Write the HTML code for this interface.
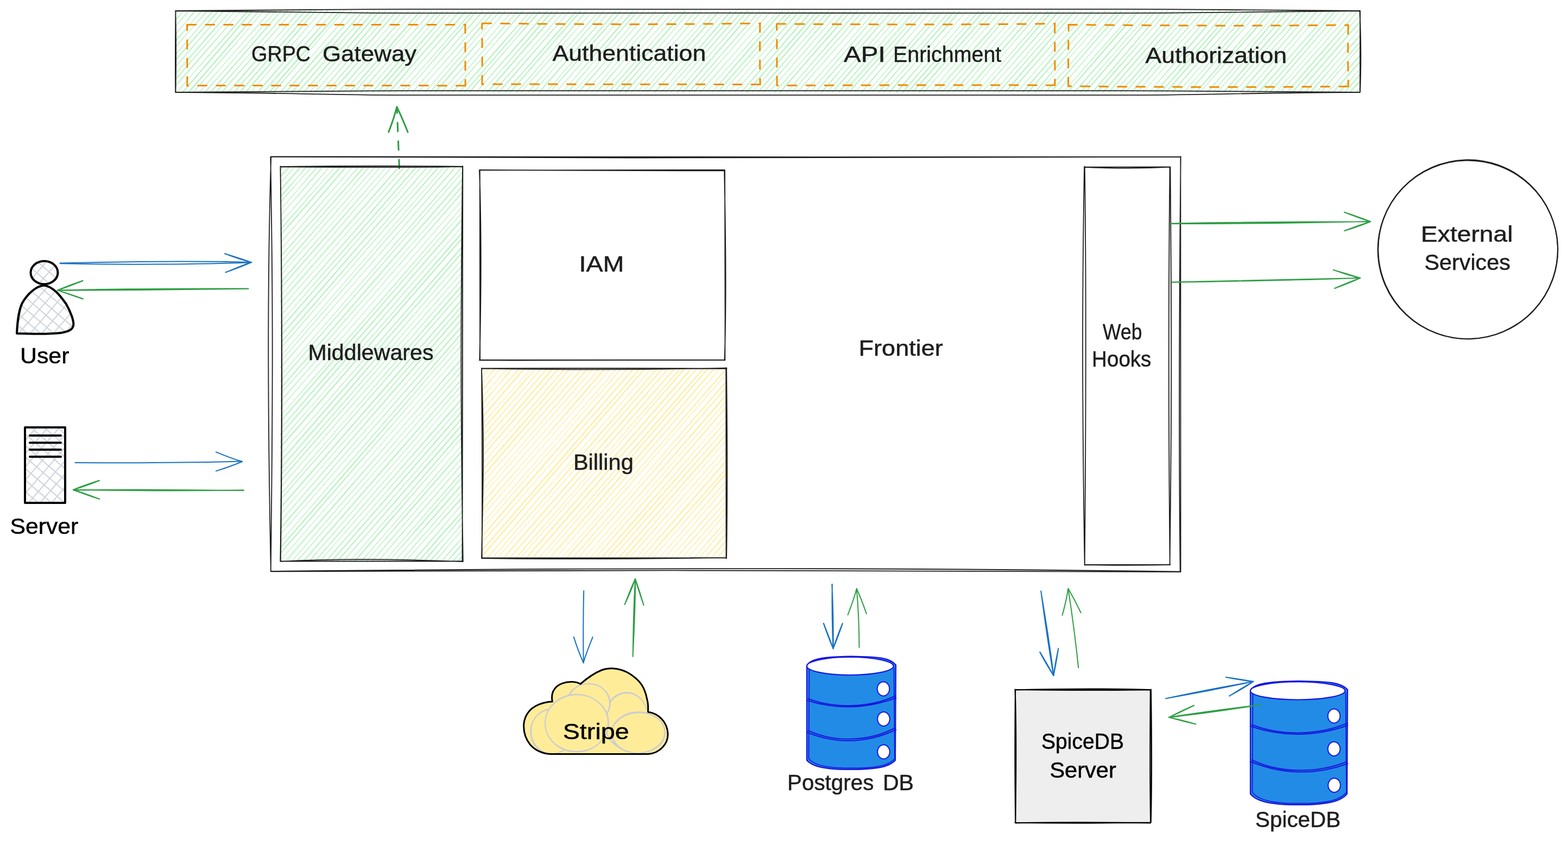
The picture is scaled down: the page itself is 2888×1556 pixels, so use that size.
<!DOCTYPE html>
<html lang="en"><head><meta charset="utf-8"><title>Frontier architecture</title>
<style>
html,body{margin:0;padding:0;background:#fff}
body{width:2888px;height:1556px;overflow:hidden}
svg{display:block;will-change:transform}
text{font-family:"Liberation Sans","DejaVu Sans",sans-serif;white-space:pre}
</style></head><body>
<svg role="img" aria-label="Frontier architecture diagram" width="2888" height="1556" viewBox="0 0 2888 1556">
<rect width="2888" height="1556" fill="#ffffff"/>
<path d="M323.8 25.8Q325.3 23.2 327 20M323.6 24.4Q325 23 326.5 20.7M322.9 37.6Q330.8 28.5 337.3 21M322 37.2Q329.9 28.4 338.9 19.7M322.4 49.3Q335 33.8 348.5 19.4M322.9 48.9Q335.3 35.1 347.5 20.7M324.1 62.7Q341.8 41.6 358.6 19.6M324 61.8Q341.7 41.2 360.2 20.4M323.8 75.8Q347.3 47.9 371.7 19M322.8 75Q347.5 47.5 371.6 20.4M323 87.5Q352.1 52.8 381.2 19.8M322 87.4Q351.9 53.2 382.2 20.2M324.1 99.9Q357.6 60.4 392 20.8M324 99.4Q358 60.3 391.8 19.5M323.6 111Q363.5 65.8 402.4 20.5M323.1 110.2Q362 65 400.5 20.8M323 123.3Q368.1 71.9 412.8 20.1M322.9 122.6Q367.9 71.6 412.5 19.3M323.7 137.2Q374 78.3 423.8 20.8M321.9 135.5Q372.7 77.7 424.9 19.4M322.1 146.9Q377.7 83.5 434.1 19.3M322.9 147.3Q378.2 83 433.9 19M322.1 160.4Q383.4 90.4 444.3 19.4M321.9 158.5Q382.1 89.8 443.5 20.5M325.6 169.4Q391.3 94.5 456.9 20.7M325.8 169.8Q391.1 93.9 456 19.6M336.3 170.8Q400.5 96.6 465.3 20.8M335.8 169.8Q401.2 93.6 465.2 18.9M348 170.2Q413.1 95.8 476.6 20.8M347 169.7Q412.3 94.4 477 19.4M355.4 170.4Q420.5 95.8 486.2 20M357.2 168.9Q422.5 94.8 486 19.6M366.6 170.4Q432.2 96.3 498.3 21M367.6 170Q433.5 94 498.6 19.4M378.4 169.4Q444 94.6 508.4 20.2M377.1 169.5Q443.7 95.6 508.6 20.2M388.1 169.1Q453.4 94.6 517.4 19.1M388.7 169.6Q453.4 95.3 518.6 20.6M397.8 169.5Q464.7 94.7 530 20.1M398.3 170.6Q464.4 94.1 529.9 18.9M410 169Q474.3 94.4 539 21.1M408.4 169.4Q475 94.1 540.1 19.1M422.4 169.5Q486.1 95 551.3 19.9M420.4 168.9Q486.8 94.1 552.9 19.6M429.8 170.9Q495.3 95.5 562.2 21M431 171.1Q496.4 95.3 561.2 20.4M441.4 169.4Q507.2 94.4 571.3 19.5M442.1 170.3Q507.3 94.7 573.2 19.8M452.7 170.9Q517.4 95.4 581.9 19.6M452.2 169.4Q516 94.5 581.3 19.4M461.1 170.3Q526.5 96.1 592 20.6M461.3 170Q528 94 593.1 19.1M475.1 170.7Q539.6 95.7 604.1 19.1M473.6 170.9Q537.8 95.6 603.7 20.9M485.6 170.9Q551.2 95.2 616.1 20.5M484.8 169.2Q549.8 94 615.8 20.4M496.3 170.1Q561.1 95.3 626.1 20.8M495.3 169.5Q560 95 625 20.3M504.1 169.2Q569.6 94.2 634 19.5M504.2 170.2Q569.3 94.6 634.2 18.9M516.1 170.4Q581.6 94.9 647.1 19.4M515.6 169.8Q581.9 95 646.7 20.9M525.8 169.1Q590.9 95.4 657.2 20.8M527.6 169.6Q592.4 95.5 657.6 20.8M537.8 170.8Q603.4 95.3 668.8 21M537 169.4Q601.8 95.3 668.1 20.6M547.8 170Q612 96.1 677.8 20.5M548.8 170.3Q614.2 95 678 20.9M559.6 170.4Q625.4 95.9 689.7 19.9M558.6 170.7Q623.5 94.3 689.1 19.3M570.7 169.2Q634.9 94.1 700.3 19.8M569.2 170.5Q634 94.1 699 19.3M580 170.7Q644.8 94.7 709.5 19.5M580 169.5Q645.8 95.9 710.6 20.6M590.2 170.8Q655.5 95.1 721.2 20.2M589.3 170.7Q654.6 96.4 719.8 20.5M602.3 169.2Q666.6 94.7 731.6 20.2M600.9 170.1Q665.6 94.6 730.5 19.9M611.7 170.4Q676.4 94.8 741.5 20.3M610 169.5Q676.4 95.2 741.7 20.8M622.8 170.7Q688.8 95.3 753.1 20.5M622.2 170.3Q686.9 94.8 753.3 19.7M632.2 170.8Q698.2 96.1 762.9 20.5M632.3 170.5Q697.9 95.3 763.1 20.3M643.7 171Q709.5 96.4 774.4 20.8M643.6 169.7Q709.1 95.1 773.2 20.5M653.7 170Q718.6 94.9 783.3 19M652.8 169.7Q718.3 95.1 783.8 18.9M664.5 170.4Q729.4 95.6 795.3 19.4M664.2 169.1Q729.8 94.6 795.8 20.1M674.7 170.3Q740 95.7 806.2 20.7M674.8 170.1Q740.6 95.1 805.1 20.6M686 170.5Q751.7 94.9 816.1 19M684.6 169.8Q749.7 95.5 815.9 20.6M696.5 169.9Q761.8 94.8 826.7 20.5M695.5 169.2Q760 95.3 825 20.5M706.7 170.5Q771.2 94.8 836.2 19.1M705.3 169.3Q771.1 94.3 835.6 20.2M716.8 170.7Q782 96.1 847.8 20.2M715.5 170.4Q780.7 94.9 845.9 19.8M726.7 170.7Q791.6 95.8 857.6 20.2M726.9 170.2Q791.9 96.2 858.5 21.1M738.8 169.7Q804.1 96 869.8 20.9M739.8 169.2Q804.5 94.4 870.5 18.9M748 169.2Q814 94.1 878.5 20.7M747.3 170.7Q811.8 94.4 877.6 19.5M759.1 170.5Q824.6 95.5 889.6 20.8M759.1 171Q823.5 96 889.5 19.4M770.2 170.2Q834.8 94.9 901 20M770.3 169.3Q836.3 95 901.7 19.8M781.9 170.6Q846 96.5 911.2 21M782.2 170.8Q847 94.9 910.8 19.1M792.3 169Q856.4 94.2 921.7 19.9M791.7 170.8Q855.4 96 920.6 20.1M800.3 169.7Q865.6 95.2 932.2 19.6M802 170.8Q866.2 95.4 931.2 19.8M812 170.6Q877.2 95.7 943.8 20.2M812.3 171.1Q878.1 96 943.2 20.7M824.8 169.5Q889.3 93.9 953.7 19.7M823.8 170.2Q888.9 95.1 953.5 20.7M833.2 169.6Q898.9 94.2 964.4 20M834.4 169.6Q899.8 94.3 963.5 19.1M846.3 171Q912.1 96.5 976.4 20.9M844.5 170.1Q910.7 95.9 975.9 21.1M855.3 171Q920.7 96.2 986.3 19.8M855.7 169.3Q920.6 95.6 985.2 20.4M864.9 170.5Q929.8 94.4 994.5 19.1M864.2 169.5Q929.3 94 995.8 20.1M877.3 169.3Q942.5 94.7 1008.2 18.9M877.5 169.5Q943.5 95.6 1008.3 20.2M887.2 170.1Q953 95.9 1018.1 20.7M887.9 169.5Q952.7 95 1016.5 20.5M897.3 170.8Q962.1 96.1 1028.5 20.2M897.4 169.3Q961.5 94.2 1027.4 20.4M908.6 170.5Q974 95.4 1039.1 20.1M907.8 170.1Q973.1 95.8 1038.8 21M917.9 170Q984.2 94.5 1048.9 20.1M918.6 171.1Q983.7 95.4 1049.2 20.1M931.1 170.4Q996.9 95.4 1061.5 20.9M930.1 170.7Q995.2 95.3 1060.3 20.5M939 169.7Q1003.9 93.9 1070 18.9M940.6 170.2Q1004.8 95.7 1069.8 21.1M951.4 169.9Q1017.1 94.9 1082 20M952 170.5Q1017.1 94.4 1080.5 19.2M959.6 170Q1026 95.5 1091.6 19.8M959.3 170.2Q1025.5 94.9 1091.7 20.1M973.6 169.1Q1038.7 93.8 1103.1 19.8M972.1 169.5Q1038.2 95.6 1103 20.6M981.8 169.8Q1047.6 95.4 1113.4 19.5M981.8 170.8Q1047.7 94.7 1112.2 19.8M992.8 170.9Q1058.6 95.9 1124.4 19.5M993.1 169.4Q1058.5 93.6 1123.9 19.6M1004.8 170.9Q1070.4 95.1 1135.9 19.5M1005.1 170.8Q1070 95 1134.3 19.5M1012.7 170.1Q1078.4 95.8 1144 21M1012.6 169.8Q1077.5 94.6 1143.3 20.4M1024.4 169.6Q1090.4 94.8 1155.1 19.3M1024.5 169Q1089.7 95.3 1154.5 20.4M1035.7 170Q1100.3 94.2 1166.1 19.2M1035.2 170.1Q1101.4 94.6 1166.9 20.1M1045.5 170.8Q1109.7 94.5 1175.5 18.9M1045.6 169.1Q1111.2 94.5 1175.1 20.4M1056.8 169Q1121.3 94.6 1186.7 19.2M1057.1 169Q1121 94.4 1186.2 20.5M1065.7 169Q1131.7 94.6 1196.3 19.8M1066.1 170.4Q1131 96 1196.5 20M1078.1 170.3Q1144 95.1 1208.6 20.2M1077.8 170.3Q1142.9 95 1207.9 20.1M1089.4 170.1Q1153.4 94.6 1218.5 20M1089 170.1Q1154 94.8 1219 19.5M1097.9 169.7Q1163.7 95.5 1229.5 20.1M1099.2 170.4Q1164 94.4 1228.1 19.6M1109.6 170.8Q1175.4 95.5 1240.1 20.8M1111.2 169.3Q1176.2 93.8 1241.5 19.7M1119.8 170.4Q1184.7 96.1 1251.4 20.2M1121.2 170.3Q1186.5 95.2 1250.4 20.1M1131.5 169.8Q1197.2 94 1262.6 19.8M1131.2 169Q1195.9 93.3 1262.1 18.9M1140.6 169.7Q1206.3 95.6 1270.5 21.1M1141.3 170.7Q1205.4 95.8 1270.4 20.7M1150.9 170.6Q1217.6 94.8 1282.9 19.6M1152 171.1Q1217.2 94.8 1282.6 19M1162.8 169.9Q1227.9 94.3 1292.9 20.3M1162.5 170.9Q1227.1 95.3 1291.8 20.3M1174.6 168.9Q1240.3 93.8 1304.8 19.7M1174 169.1Q1239.1 95.6 1303.6 21M1183.6 170Q1248.6 95.1 1314.6 20.5M1183.7 170.2Q1248.7 95.2 1315 20.7M1192.5 169.1Q1258.2 95.3 1323.2 20.6M1193.1 169.2Q1259.8 94.1 1325 20.7M1205 170.5Q1270.3 94.4 1336 20.1M1205.4 171.1Q1270.4 95.2 1336 20.4M1217 171Q1281.4 95.5 1345.7 20.2M1216.7 171Q1282.2 96 1347 20.4M1225.6 170.6Q1290.5 95.6 1355.7 20.3M1226.5 170Q1291.2 95.5 1357.6 19.4M1235.9 169.8Q1301.8 95.1 1366.9 21.1M1236.4 169.9Q1301 94.7 1366.7 19.8M1246.4 170.7Q1311.9 95.6 1377.2 19.2M1247.7 170.3Q1312.2 94.5 1378 19.6M1257.1 169.9Q1321.7 94 1387.2 19.2M1258.3 170.1Q1323.5 95.1 1387.3 19.8M1268.4 169.3Q1334.3 93.4 1399.3 19.1M1269.2 169.7Q1333.6 95 1399.4 20.2M1277.7 169.7Q1343.8 94.8 1408.2 20.4M1279 169.4Q1344.1 93.8 1409.1 19.7M1289.7 169.9Q1355.2 95.5 1420.3 20.7M1290.9 169.5Q1355 95.6 1419.8 20.7M1301.5 169.1Q1366.5 94.2 1432.4 20.3M1301.2 169.2Q1367.4 94.6 1432.5 20.5M1311 170.5Q1375.6 94.2 1441.6 18.9M1312.3 169.7Q1376.8 95.2 1442.1 20.2M1322.8 170Q1388.4 95.4 1453 21M1321.4 169.1Q1387.3 94.1 1453 19.2M1330.6 170.7Q1396.9 95.1 1461.7 20.9M1331.6 169Q1397.3 94.6 1461.4 19.9M1342.1 170Q1407.6 95.7 1471.8 19.7M1342.7 169Q1408.6 93.9 1473.4 19.9M1353.5 169.5Q1418.6 95.4 1482 20M1352.4 171.1Q1418.3 95.7 1483.7 20.8M1364.7 171Q1429.9 95.8 1495.2 20.9M1364.9 169.6Q1430.3 94.5 1494.4 20.2M1375.9 170.6Q1441.2 96 1505.5 21.1M1374.4 170.2Q1439.2 95.3 1504.6 20.9M1385.5 170.2Q1451.2 95.1 1515.6 20.3M1385.2 170.7Q1449.6 94.5 1514.5 19.3M1395.7 169.1Q1461.7 95.5 1526.5 20M1397.3 170.2Q1461.8 95.2 1525.9 19M1406.9 170.1Q1470.9 94.6 1536.4 20.3M1406.8 169.5Q1471.5 94.1 1535.3 19.5M1415.8 170Q1482.2 95.6 1547.3 19.6M1417 169.1Q1482.3 94.4 1546.3 20.9M1427.1 170.5Q1492.4 95.8 1556.8 19.6M1426.4 170.2Q1492.1 96.3 1558.2 20.8M1436.7 169.2Q1502 93.6 1568.1 19.2M1436.5 171Q1502.4 95.5 1567.5 21M1448.5 171.1Q1513.8 94.4 1578.9 19.5M1450.2 169.1Q1515.5 93.5 1580.7 19M1458.9 169.7Q1523.4 94.5 1589.1 20.3M1459.3 169.6Q1524.7 93.9 1590.2 19.8M1468.1 170.3Q1533.8 96 1599.7 21M1468.6 169.1Q1534.4 95.5 1599.2 20.4M1481.3 170.1Q1546.8 95.2 1611.6 20M1482 169.9Q1547.1 95.4 1611.5 20.7M1491.9 170.2Q1556.7 94.1 1621.1 19.6M1491.2 170.9Q1556.5 96.1 1621.1 19.9M1502.4 169.7Q1567.1 95.5 1632.4 20.3M1501 170.6Q1566.2 94.8 1633 19.6M1513.1 170.8Q1577 95.8 1642.3 19.1M1512.8 169.2Q1578.3 94.6 1643.3 21M1524.3 169.3Q1589.7 94.4 1654.8 20M1523.4 169.8Q1589.5 94.1 1654.3 19.9M1533.9 170.2Q1598.3 95.1 1663.6 20.3M1532.3 169.2Q1599 94 1664.4 20.5M1544.1 170Q1609.5 94.6 1675.3 19M1545.4 170Q1610.1 94.8 1674.5 20.2M1554.3 168.9Q1619.5 94 1684.8 19.1M1555.6 170.5Q1620.3 95.6 1685.8 21.1M1563.9 170Q1630.3 95.5 1695.2 19.2M1563.8 168.9Q1629.6 93.9 1694.2 20.5M1575 169.6Q1639.1 93.7 1704.3 18.9M1574.5 170.1Q1639.1 95.4 1704.8 19.4M1586.1 169.9Q1650.2 94.3 1716 19.8M1586.3 170.6Q1651.8 94.2 1715.8 19.3M1598.5 169.2Q1662.9 93.8 1728.8 19.2M1597.4 170.2Q1663 94.8 1728 20.6M1607.7 169.2Q1672.6 94.5 1738.5 20.7M1606.6 169.8Q1671.3 93.9 1737 19M1617.9 170.8Q1684 95.3 1748.8 20.3M1617.9 169.4Q1684.2 95.3 1749.1 20.8M1627.2 170.7Q1694 96.1 1759.4 20.1M1628.7 169.7Q1693.4 94.6 1758.4 19.7M1637.7 169.3Q1703.8 94.4 1769.1 20.8M1638.5 170.3Q1703.5 94.2 1768.1 19.1M1649.7 170.8Q1715.1 96 1780.4 19.8M1651.3 170.8Q1715.7 95 1781.2 19.1M1662.2 169.3Q1727 95.8 1791.8 21M1662.5 170.6Q1727.1 94.8 1792.4 20.4M1671.2 169.5Q1736.5 94.8 1802.9 21M1673 169.6Q1736.9 95.4 1802.4 19.7M1681.2 169.1Q1747.3 93.8 1811.9 19.7M1681.7 169.6Q1747.3 95.9 1812.7 20.9M1692.5 170.8Q1757.8 95.1 1823.2 19.9M1692.5 169.1Q1756.8 94.3 1822.4 20.6M1702.1 169Q1767.7 95.3 1832.5 20.2M1701.5 170.3Q1767 95.6 1832.2 19.7M1715.1 168.9Q1778.8 93.7 1844.1 20M1713.8 170.1Q1778.4 95 1843.7 19.1M1725.5 170.2Q1790.6 95 1855.7 20.2M1723.5 169Q1788.5 94.4 1855.2 20.8M1734.2 170.7Q1799.3 95.9 1864.4 19.6M1734.1 170.3Q1799.8 94.6 1864 19.8M1745.6 170.1Q1811 94.9 1875.8 20.2M1744.9 169.8Q1811 94.8 1875.7 20.1M1756.8 171Q1820.9 96.2 1885.8 20.5M1755 170Q1821.5 95.7 1886.6 20.4M1766.8 168.9Q1832.5 93.9 1897.4 20.1M1767 169Q1832.3 95.2 1897.7 20.7M1777.2 169.1Q1842.3 94.3 1908.6 19.7M1778.4 171Q1842.7 96 1908.2 21M1786.4 170.8Q1851.4 96.4 1916.4 20.3M1788 169.2Q1852.1 94.6 1916.8 21.1M1799.6 169.6Q1864.7 94.8 1929.9 19.8M1798.6 170.3Q1865.2 94.8 1930.7 20.2M1807.3 171.1Q1872.9 95.8 1938 19.7M1808.7 169.9Q1874.7 94.1 1939.5 19.9M1819.3 169.8Q1884.8 95.1 1950.4 19.3M1819.1 169.3Q1885.2 95.3 1951.6 19.9M1830.2 170.2Q1895.5 95.9 1960.6 20.6M1829.9 170.9Q1895.2 96.5 1960.7 20.8M1839.1 169.9Q1905.3 94.3 1971.5 19.9M1840.2 169.8Q1905.8 94.6 1971.4 20.5M1851.9 170.2Q1915.7 95.4 1980.6 20.7M1851.6 169.1Q1915.4 93.9 1980.3 19M1861.3 168.9Q1927.1 94.1 1992.1 19.9M1861.9 169.6Q1927.3 94.3 1992.7 19.3M1872.7 170.1Q1938.5 95.5 2002.6 20.7M1872.9 170.5Q1937.7 95.3 2002.6 20.2M1883.2 169.4Q1948.2 93.9 2012.9 19.3M1883.7 170.9Q1949.7 95 2014.1 19.6M1893.9 170.4Q1959.5 95.1 2023.8 20.6M1893 169.8Q1958.2 94.9 2024.5 20.4M1906.3 170.2Q1970.8 94.7 2036.3 20.7M1905.6 169.7Q1970.8 95.2 2036.2 19.5M1914.1 169.2Q1980.3 95.3 2044.8 20.5M1913.5 169.9Q1979.5 95.9 2044.8 20.3M1926 169.2Q1992.8 93.6 2058 19.3M1926.8 169.2Q1992 94.8 2056.2 19.6M1935.2 169.7Q2000.4 94.5 2065.6 19.4M1936.9 169.1Q2001 94.4 2066.4 20.1M1947.1 169.7Q2011.4 95.5 2075.6 19.9M1946.7 169.4Q2012.4 93.3 2077.5 18.9M1957.5 170.7Q2022.7 95.5 2089.2 20.6M1957.3 170.5Q2023.7 95.6 2089.6 20.1M1967.1 169.7Q2032.5 94.8 2098.4 19.8M1966.8 169Q2032.3 93.9 2097.2 18.9M1979.1 169Q2043.7 94.7 2110 20.7M1979.6 169.8Q2045.1 95.8 2110.1 20.4M1990.1 169Q2055.2 94.9 2120.2 20.4M1989.6 170.8Q2054.5 94.9 2119.7 20.3M1998.1 169.5Q2063 94.8 2129.3 19M2000 169.8Q2063.9 95.1 2129.3 20.2M2011.9 170.3Q2077.3 95.1 2141.4 19.8M2010.8 170.5Q2076.1 95.4 2141.1 19M2020 169.1Q2086.3 93.4 2152.2 19.1M2020.9 170.9Q2086 95.4 2150.7 19.6M2031.6 169Q2097.2 94.1 2162.4 19.5M2031.3 171.1Q2096.6 96.1 2161.8 21M2041.1 170.5Q2106.1 95.3 2172.2 20.2M2042.2 170.6Q2107.7 95.4 2172.6 19.8M2053.2 169.6Q2118.6 95.1 2182.3 19.2M2053.6 169.5Q2118.9 94.7 2184 20.6M2063.8 171.1Q2129.3 96.2 2193.9 19.9M2062.8 169.2Q2129 94.8 2194.2 20.1M2073.2 168.9Q2138.5 95.1 2203.1 21M2072.4 170.4Q2138.5 96.1 2203.9 20.3M2084.9 170.1Q2149.5 94.4 2215.2 20.4M2083.8 169Q2150 93.7 2215.1 19.6M2095.4 169.1Q2160.2 94.3 2224.7 20.4M2093.8 170.2Q2158.7 96.2 2224.5 20.8M2105.2 169.5Q2170.8 94.1 2235.3 19.9M2105.6 169Q2170.5 95.5 2235.7 20.7M2115.9 170.9Q2181.3 96.5 2247.7 20.6M2115.9 170.8Q2180.7 95.4 2246.2 19.4M2128.1 169.1Q2194 94.1 2258.9 20.9M2127.7 170.6Q2194 96.4 2258.9 21.1M2137.8 169Q2204.1 93.8 2269.1 19.9M2138.9 170.3Q2204 95.4 2269.3 20.4M2147 170.2Q2212.3 95.1 2277.2 19.7M2148.4 169.9Q2213.7 95.1 2278 19.8M2159 169.2Q2224.6 94.2 2289.8 20.3M2159.3 170.2Q2223.8 96 2289.7 20.7M2169.3 170.6Q2233.9 96 2300.2 20.9M2169.7 170.6Q2234.1 96.1 2299.1 20.6M2181 169Q2246.2 94.9 2310.5 19.2M2179.9 170.8Q2245.4 94.7 2309.7 19M2190.3 170.9Q2254.6 94.8 2319.4 20.2M2189 169Q2254.5 94.5 2319.9 19.6M2202.8 169.3Q2267.3 95.2 2332.7 20.8M2203.1 170.3Q2268.8 95.5 2332.9 19.6M2211.1 168.9Q2277 94.2 2341.9 20.8M2211 169.3Q2275.6 94.4 2341.4 19.3M2224.1 170.3Q2288.2 94.8 2353.3 20.9M2222.7 170.6Q2288 95.4 2354.2 19.6M2233.8 169.9Q2297.7 94.5 2362.6 19.1M2233.6 170.1Q2298 95.6 2362.5 21M2242.5 169.4Q2307.7 94.9 2373.7 20.9M2242.6 169Q2308.4 94 2372.4 20.6M2253.4 169.6Q2317.8 94.7 2383.3 20.8M2254.4 170.3Q2318.5 96.2 2384.3 20.4M2263.4 169.9Q2328.4 94.8 2395.1 21M2262.9 169.2Q2329.2 93.6 2395.3 19.1M2274.1 169.5Q2339.6 95.2 2405 20.8M2274.1 169.3Q2340.2 94 2404.9 19.8M2284.2 169.6Q2350.2 95.1 2415 19.8M2285.4 170.7Q2351.2 94.2 2416.4 19M2296.3 169.5Q2361.5 95.2 2425.9 19.3M2297.5 169Q2362.3 94.2 2427.1 19.3M2305.7 170Q2371.6 94.5 2436.1 20.8M2307.3 170.7Q2371.6 94.9 2436 20.2M2318.7 170.7Q2384.6 96.5 2449.9 21M2317.6 169.6Q2383 95.4 2448.9 20M2329.5 169.9Q2395.6 94.9 2460.1 19.7M2328.4 170.3Q2393.5 95.9 2458.2 20.4M2338.1 170.2Q2403.6 95.6 2467.7 20.6M2338.9 171Q2404.4 95.8 2468.6 20M2349.5 170.6Q2414.4 95.2 2480.4 19.2M2349.8 170.5Q2415.5 94.7 2479.7 19.7M2358.9 169.1Q2424.2 95.1 2490.6 20.4M2359.2 169.7Q2424.8 95.7 2490.6 20.6M2371.2 170.7Q2437.1 94.6 2501.4 20.1M2369.8 169Q2435.5 94.9 2500.8 20.1M2381.4 169.4Q2444.3 98.3 2506 26.5M2379.5 170Q2441.7 98.8 2504.8 27.9M2390.4 170.1Q2448.4 103.9 2505.3 38.7M2392.4 170.4Q2449.8 105 2506 39.3M2403 170Q2454.5 110.5 2504.5 52.5M2403.9 170.5Q2454.7 111.6 2504.3 52.7M2413.4 169.3Q2459.3 116.9 2506.1 65.1M2413.8 170.8Q2459.2 117.5 2505.1 64.1M2425.2 169.4Q2464.1 124.3 2503.9 78M2424 171.1Q2464 124.7 2505.7 77.1M2433 169.7Q2468.7 128.7 2504.3 87.1M2434.4 169Q2469.6 128 2504 88M2444.5 170.9Q2474.9 135.9 2505.8 102.3M2446 169.9Q2475.7 135.9 2504.7 101.2M2455.1 169.2Q2480.4 140.9 2504 114.2M2455.8 171Q2479.9 143 2505.2 114.2M2466.2 169.3Q2486.3 148.3 2506 125.7M2467.5 170.6Q2485.4 148.7 2504.6 127.1M2477.4 169Q2490.1 153.9 2504.1 137.4M2476.8 170.2Q2491.6 155 2504.8 138.5M2486.9 170.6Q2496.4 159.3 2505.9 149.1M2485.6 169Q2494.9 159.3 2504.5 149.4M2498.7 170.9Q2500.9 165.9 2504.5 161.3M2497.1 170.5Q2500 166.6 2504.6 162" fill="none" stroke="#b2f2bb" stroke-width="1.1" stroke-linecap="round"/>
<path d="M323 20C519.4 19.5 628.5 16.8 759.4 16.8C1195.8 17.3 1632.2 17.2 2068.6 16.8C2199.5 16.8 2308.6 19.5 2505 20M323 20C519.4 20.6 628.5 24.2 759.4 24.2C1195.8 23.8 1632.2 23.8 2068.6 24.2C2199.5 24.2 2308.6 20.6 2505 20M2505.1 19.6C2505.2 90.2 2505.1 119.3 2504.9 169.9M2504.5 19.5C2507.3 87 2507 126.2 2505 169.8M2505 170C2308.6 169.6 2199.5 167.2 2068.6 167.2C1632.2 167.3 1195.8 166.8 759.4 167.2C628.5 167.2 519.4 169.6 323 170M2505 170C2308.6 170.8 2199.5 175.2 2068.6 175.2C1632.2 175.2 1195.8 175.1 759.4 175.2C628.5 175.2 519.4 170.8 323 170M323.2 169.6C322.7 117.8 323 76.2 323.4 20.3M323.5 169.6C324.6 103.1 324.2 56.6 323.3 20.2" fill="none" stroke="#1e1e1e" stroke-width="1.8" stroke-linecap="round" stroke-linejoin="round"/>
<path d="M344.8 45.4C524.1 45.6 743.3 45.4 857.3 45.5M856.8 44.9C857 84.7 856.9 133.5 857.1 158.1M856.6 157.7C624.8 157.4 516.8 157.6 344.6 157.4M344.8 158C344.9 104.9 344.8 82.4 344.6 45.3" fill="none" stroke="#f08c00" stroke-width="3" stroke-linecap="round" stroke-linejoin="round" stroke-dasharray="16 18"/>
<path d="M888.5 42.9C1104 45.2 1226.4 45.3 1400.4 42.9M1399.8 43C1399.5 85.5 1399.4 115.1 1400.1 155.4M1400.3 155.4C1173 155.4 1077 155 888.5 155.1M888 155.4C888.3 104.1 888.2 72.9 887.7 43.4" fill="none" stroke="#f08c00" stroke-width="3" stroke-linecap="round" stroke-linejoin="round" stroke-dasharray="16 18"/>
<path d="M1431.3 44C1606.1 45.3 1816.2 45.5 1943.3 43.5M1942.7 44.2C1942.8 78.8 1943.1 133.7 1943 156.6M1943.1 157C1770.5 156.4 1572.4 156.9 1431.1 157.5M1431.1 157.2C1430.9 109.2 1430.9 66.7 1430.6 44.1" fill="none" stroke="#f08c00" stroke-width="3" stroke-linecap="round" stroke-linejoin="round" stroke-dasharray="16 18"/>
<path d="M1967.5 45.5C2196.5 47.5 2328.6 47.7 2483.4 46.1M2483.2 46.2C2482.6 84.8 2482.6 115.9 2483.4 159.2M2482.8 159.2C2304.5 160.7 2135.7 160.5 1967.7 158.7M1967.6 158.8C1967.5 108.5 1967.8 75.6 1968.3 46.2" fill="none" stroke="#f08c00" stroke-width="3" stroke-linecap="round" stroke-linejoin="round" stroke-dasharray="16 18"/>
<text font-size="40" fill="#1e1e1e" stroke="#1e1e1e" stroke-width="0.5" stroke-linejoin="round"><tspan x="463.1" y="113" textLength="108.9" lengthAdjust="spacingAndGlyphs">GRPC</tspan> <tspan x="593.9" y="113" textLength="173.4" lengthAdjust="spacingAndGlyphs">Gateway</tspan></text>
<text font-size="40" fill="#1e1e1e" stroke="#1e1e1e" stroke-width="0.5" stroke-linejoin="round"><tspan x="1017.5" y="111.5" textLength="282.7" lengthAdjust="spacingAndGlyphs">Authentication</tspan></text>
<text font-size="40" fill="#1e1e1e" stroke="#1e1e1e" stroke-width="0.5" stroke-linejoin="round"><tspan x="1554" y="114" textLength="76.6" lengthAdjust="spacingAndGlyphs">API</tspan> <tspan x="1645" y="114" textLength="199.3" lengthAdjust="spacingAndGlyphs">Enrichment</tspan></text>
<text font-size="40" fill="#1e1e1e" stroke="#1e1e1e" stroke-width="0.5" stroke-linejoin="round"><tspan x="2109.5" y="115.5" textLength="260.7" lengthAdjust="spacingAndGlyphs">Authorization</tspan></text>
<path d="M735.5 310L731 197" fill="none" stroke="#2f9e44" stroke-width="3" stroke-linecap="round" stroke-dasharray="16 18"/>
<path d="M715.8 243.1C722 227.2 727.6 210 730.9 196.9M751.1 243.2C741.7 219.8 737.9 210.6 731 197.1" fill="none" stroke="#2f9e44" stroke-width="3" stroke-linecap="round" stroke-linejoin="round"/>
<path d="M499.2 288.5C1193.1 289.1 1573.7 289.3 2174.5 288.7M498.8 288.7C1085.9 291.5 1519.6 291.1 2174.8 288.9M2174.7 288.3C2171.3 622.4 2171.6 864.8 2173.7 1051.9M2174.4 288.3C2172.3 661.6 2172.3 884.3 2174.6 1053.1M2174.8 1052.6C1619.2 1045.1 1156.8 1045.5 499.6 1051.9M2174 1053C1481.6 1049.9 1131.6 1049.4 499.7 1052.4M498.9 1052C492.8 760 492.7 499.8 499.2 289.5M498.7 1052.2C503 704.6 502.5 528.2 498.3 288.9" fill="none" stroke="#1e1e1e" stroke-width="1.8" stroke-linecap="round" stroke-linejoin="round"/>
<path d="M517.1 313.4Q519.8 309.4 522.1 306.5M517 312.8Q519.6 308.5 522.8 305.6M517.4 324.5Q526.3 316.2 534.6 307.5M516.2 324.4Q524.4 314.5 533.6 305.5M516.9 335.8Q530.4 321.2 543.3 306.5M517.4 335.8Q530.6 322.3 542.1 307.6M516.6 349.1Q535.8 327.1 554.1 305.6M517.8 349.4Q535.8 327.8 555.5 307.3M516.9 363.4Q541.3 335 565.3 305.6M516.5 361.4Q541.3 333.8 565.2 307.5M516.1 372Q545.9 338.8 575.4 305.8M516.3 373.5Q544.5 340 574 306.8M516.5 386.1Q551.9 345.6 586 306.1M516.8 385.9Q552.1 345.2 585.6 305.6M517.6 397Q555.9 351.4 595.6 305.6M516.4 397.6Q556.9 352 595.7 306.4M517.8 409.6Q562.7 358.1 606.5 307.4M516.3 410.8Q563.1 359 608.2 305.8M516.8 421.7Q566.4 365 616.9 307.5M516.5 423.3Q566.7 365.1 618.1 306M516.4 433.7Q571.9 370.9 628.2 306.8M516.3 432.5Q570.9 368.9 626.9 306.4M517.2 445.6Q578.6 376.8 638.3 307.4M517.4 446.6Q576.8 376.8 637.8 305.5M518 458.3Q584.5 382.1 650.2 306.5M518.1 458.5Q584.8 383.2 650 307M517.6 472.5Q589.6 390.4 660.2 306.9M516.8 472.2Q589.3 389.2 661.3 306.7M517.2 482.6Q594.9 395.5 671.2 307.6M516.8 484Q594.5 394.5 671 306.4M516 496.3Q599.2 401.1 681.8 305.9M517.3 497Q598.9 401.5 681.3 305.4M516.3 507.9Q604.7 406.8 691.7 306.4M517.4 506.4Q605 407.4 691.2 307.2M517.2 519.2Q609.9 413.5 701.5 306.5M517.5 520.6Q609.5 412.8 701.8 305.8M516.8 531.7Q615.3 419.7 712.5 306.1M516.9 530.5Q613.4 419.3 711.5 307.3M516.6 545.1Q619.6 424.6 722.8 305.7M517.7 543.9Q620.6 424.6 723.1 305.5M517.3 557.5Q625.9 432.1 735.6 306.9M516.3 555.7Q624.8 430.9 734.5 307M517.4 568.4Q631 438.2 744.8 307.1M517.9 567.4Q631.1 437.1 745.5 307M517.9 580.9Q637.4 444.9 755.9 307.3M516.9 581.5Q636.6 444.5 755.1 307M516.4 594.4Q642 451.5 767.6 307.6M516.6 594.5Q641.2 450.2 767.3 306.2M517.6 605.3Q645.9 456.8 775.8 307.2M516.3 605Q646.2 455.4 777.4 305.7M517.7 618.4Q654 461.7 788.7 306.5M516.4 618Q652.1 462.6 787.3 307M517.1 630Q658.4 468.1 798.3 307.3M517.8 631.5Q657.7 469.1 798.6 306.7M517.2 640.8Q663.2 474.2 809.5 306.5M517.1 641.8Q663.1 473.5 808.9 305.5M517.9 654.6Q668.8 480.7 820 305.7M517.9 655Q669 481.2 819.6 305.8M517.6 664.3Q673.3 484.8 828.3 305.9M516.7 665.6Q671.7 486.3 828.1 307M516.3 677.9Q677.8 492.1 839.7 306.2M516.3 677.2Q678.2 492.6 840.1 306.8M517.8 690.3Q685.4 498.4 851.7 307.2M516.6 691.8Q684.2 499.1 850.5 307.6M517.5 701.7Q684.2 510.1 851.1 317.6M516.2 702Q683.8 509.2 852.4 315.8M518 715.1Q685 523.4 852 331.1M516.3 715Q683.8 522.3 851.1 329.6M516.2 726.7Q684.6 535.4 851.3 342.7M516.1 726.4Q685 533.8 853 341.9M517 739.2Q685 546.6 852.2 352.9M516.3 739.2Q683.9 545.9 852.5 353.7M515.9 752.5Q684.9 559.8 852.7 366.7M516.8 751.8Q684.9 559.1 852 367.3M517.5 765.3Q685.8 572.9 852.7 379.1M517.4 765.3Q685.4 571.5 852.6 379.1M516.9 774.5Q684.5 582.1 851.7 390.5M518 776Q684.9 583.3 851.6 390.6M518.1 788.2Q686.1 594.8 852.4 403.1M517.3 788.4Q683.6 594.8 851.5 402.3M516.1 799.5Q684.5 608 852.9 414.8M517.1 801.2Q684 608.4 852.3 415.4M516 814.1Q683 620.9 851.3 427.7M517.2 812.2Q685.2 620.1 853 427.6M516.5 824.8Q684.7 631.3 852.1 438.6M515.9 823.9Q683.9 630.9 851 438.3M517.5 836.9Q684.6 645.9 853.1 453.5M516.8 837.8Q685 645.6 853 451.9M516.9 850.7Q684.1 657.8 852.7 464.5M516.9 849Q683.3 656.6 851 464.3M516.9 861.2Q685 668.7 852.2 476.2M518.1 862.7Q684.6 669.9 852.5 475.8M517.3 873.9Q684.5 681.7 851.5 489.2M517.3 874.7Q685.1 682.2 851.3 488.3M516 885.6Q684 692.6 851.5 501M517.1 885.6Q684.2 693.9 851.1 501.6M517 897Q684.9 704.1 851.7 512.8M516.2 898.3Q683.7 705.4 852.3 512.8M517.7 909.3Q684.7 717.3 852.3 525.3M517.5 910.5Q684 717.8 851.8 523.9M516.1 921.5Q683.7 729.4 852 536.4M516.1 920.7Q683.9 728.3 852.4 535M516.5 934.2Q683.9 741.4 851.7 550.1M517.5 935.1Q685.9 742.7 852.9 550.5M516.6 947Q684.9 754.5 851.8 563M516.7 947.1Q684 753.9 851.7 561.8M517.7 959.1Q684.6 766.9 852.7 573.8M517.8 958.5Q684.5 766.2 850.9 573.7M517.3 972.8Q684.7 779.1 851 586.9M516.1 972.7Q684.7 778.6 852.9 585.9M517.3 983.3Q684.4 791.6 851.4 599M516.8 983.5Q684.9 791.2 853 598.8M517.5 996.9Q684.9 804.7 851.8 611.3M517.7 996.7Q685.5 804.2 852.9 611.6M517.7 1008Q685.2 815.8 851.8 622M516.7 1007.4Q683.7 815.8 851.3 622.6M516.6 1018Q683.9 825.3 852.3 634.1M516.9 1019Q684.2 825.2 852.9 632.4M516.4 1031.9Q683.8 838.3 852.2 645.4M516.3 1032Q684.5 839 851.6 646.1M526.7 1034.4Q690 846.4 851.7 658.4M525.2 1032.5Q688.9 845.8 853 659M536.5 1034.6Q693.5 852.5 852.3 670.5M536.7 1034.2Q694 852.1 852.5 671.3M546.6 1034.3Q700.2 858.3 852 683.1M547.3 1032.7Q700.5 857.8 852.6 681.7M557.9 1033Q705.1 864.1 852.5 695.3M559.8 1033.7Q706.8 864.6 852.8 695.8M568.7 1034.2Q710.1 870.9 851.4 708.7M570.3 1033.1Q710.6 870.3 851.6 707.7M579.5 1033.9Q715.2 877.8 851.1 720.1M580.5 1033.8Q716.1 876.5 850.9 720.1M590 1032.4Q721 882.8 853.1 732.8M589.6 1033.2Q720.6 882.3 852.1 731.7M600.3 1032.8Q727.2 888.6 852.5 744.2M601.4 1033.1Q726.4 887.7 852.7 743.7M611.9 1032.8Q732 894.5 851.8 757.6M610.9 1032.7Q730.3 895.4 851.2 756.6M621.6 1033.8Q736.9 901.2 852.6 769.1M621.4 1032.4Q737.4 901.2 851.8 768.9M632.9 1032.4Q742.5 905.9 851.6 780.8M632.4 1033.5Q742.7 907.1 852.6 781.9M644.4 1033.6Q747.4 914 851.7 793.6M644.5 1033.5Q748 914.7 852.5 794.4M653.1 1032.6Q752.6 918.8 851.4 805.7M654.7 1033.2Q754.2 918.3 851.9 804.7M665 1033.6Q759.3 926.6 852.1 817.8M665.6 1033.7Q758 927.1 851.2 819M674.4 1034.2Q762.1 930.8 851.3 829.1M673.5 1034.6Q762.9 932.3 853 829.3M685.6 1033.7Q768.6 937.4 852.7 841.3M685 1033.3Q768.6 937 852.2 841.6M695.7 1033.8Q772.7 945 851 854.5M696.3 1033.4Q774.4 944.4 851.8 854.4M707 1034.6Q779.7 950.9 852.7 867.5M707.2 1034.4Q779.5 951.3 852.1 866.8M715.8 1034Q784.5 956.7 852.9 878.5M716.3 1033.7Q783.6 955.4 851.1 877.1M726.5 1033.9Q789 961.7 852.1 889.7M726.9 1032.6Q790.2 962.6 852.9 891.3M738.9 1032.9Q796.4 967.1 852.5 902.7M738.8 1032.7Q794.6 967.7 852.1 903.6M748.2 1032.5Q800.3 973.6 852.9 915.2M748.7 1032.5Q799.5 973.9 851 915.4M761.5 1033.4Q807.1 981.3 851.4 927.7M759.7 1034.2Q805.1 981.8 851.7 928.1M770.5 1033.8Q810.1 986.9 851.3 941.3M771.6 1033.1Q812.6 986.5 852.9 941.3M782.1 1033.4Q816.2 992.7 851.1 951.4M780.5 1032.8Q816.5 992.3 851.4 952.3M792.5 1033.7Q822.7 999 851.4 963.7M791.2 1033.8Q821 999.5 851.1 965.2M801 1033.7Q826.8 1003.8 851.5 975.4M801.5 1034.1Q826.6 1004.2 851.4 975.5M814.4 1032.5Q833 1011.8 851.9 989.6M813.3 1032.8Q832.5 1011.3 852.1 989.3M823.7 1033.5Q838.3 1018.2 852.8 1001.4M823 1034.1Q836.7 1017.5 851.3 1001.2M834.9 1034.1Q842.7 1023.8 851.4 1013.1M834.3 1032.5Q843.4 1023.7 852.2 1013.6M842.9 1032.4Q847.4 1027.7 852 1023.8M844.4 1032.6Q848.7 1028.8 852.9 1024.1" fill="none" stroke="#b2f2bb" stroke-width="1.1" stroke-linecap="round"/>
<path d="M516.6 307C649.4 305.3 727.1 305 852.3 306.7M516.3 307C655.1 308.2 747.2 308.9 851.3 306.8M852 305.8C848.6 573.9 848.2 745.8 852.8 1034.2M852.3 305.8C851.9 540.6 852.1 787.8 851.5 1034M852.4 1034.2C724.6 1029.1 618.9 1028.5 517.8 1033.8M851.8 1033.5C727.5 1033.7 605.5 1033.2 517.5 1033.5M516.8 1033.9C520 811.2 519.4 521.8 516.4 306.6M516.3 1033.4C519.9 789.1 519.5 557.2 516.5 306.2" fill="none" stroke="#1e1e1e" stroke-width="1.8" stroke-linecap="round" stroke-linejoin="round"/>
<text font-size="40" fill="#1e1e1e" stroke="#1e1e1e" stroke-width="0.5" stroke-linejoin="round"><tspan x="567.4" y="663" textLength="231.1" lengthAdjust="spacingAndGlyphs">Middlewares</tspan></text>
<path d="M883 313.1C1042.4 313.7 1230.4 313.2 1334.9 312.9M882.8 313.1C1066.5 314.6 1193.4 314.9 1333.9 314.1M1334.1 314.1C1337.5 475.3 1337.6 575.5 1334.5 663.4M1335 314C1335.8 457.7 1335.7 552.9 1335.3 663.3M1334 663C1149.5 662.6 1002.9 662.7 883.2 662.9M1334 662.8C1144.5 664 1019.4 664.1 882.9 663.2M884.1 663.5C884.8 491.7 884.5 387.7 883.8 313M883.4 663.3C886.6 529.6 886 397.5 883 314.3" fill="none" stroke="#1e1e1e" stroke-width="1.8" stroke-linecap="round" stroke-linejoin="round"/>
<text font-size="40" fill="#1e1e1e" stroke="#1e1e1e" stroke-width="0.5" stroke-linejoin="round"><tspan x="1066.5" y="500" textLength="83" lengthAdjust="spacingAndGlyphs">IAM</tspan></text>
<path d="M887.4 683.5Q889.5 680.9 892.5 677.5M887.3 682.8Q890.1 679.6 891.9 677.8M887.9 695.3Q895.1 686.4 901.8 678.7M887.1 696Q893.7 686.9 901.6 678.3M886.3 708.6Q899.3 694 912.5 679.1M887.8 707.9Q900.1 692.5 911.8 678.2M887.8 719.8Q904.7 699.4 922.6 677.9M887 718.9Q905.1 697.2 924 677.1M886.2 733.5Q910.5 705.8 934.3 678M886.9 733.4Q910.3 705.8 935 678.2M887.8 745.4Q916.2 711.4 943.8 677.2M885.9 744.9Q915.6 711.5 945.7 677.8M886.5 757.8Q921.2 717.6 956.1 678.3M886.8 757.2Q921.7 717.8 956.4 679.1M886.7 769.9Q926 723.1 966.4 677.2M887.8 769.9Q928.1 723.7 966.8 678.2M886.7 782.4Q932.7 730.7 977.8 679M887.8 782Q932.6 731 977.4 679M887.9 793.7Q937.3 736 986.8 679M886.5 792.5Q935.9 735.1 986.7 678.4M887.1 805.7Q942.7 741.4 998.8 677.5M886.2 805.3Q941.2 742.2 997.4 678.5M887.3 817.9Q947.9 748.5 1008 679M886 817.4Q947.7 748.3 1007.8 677.9M887.4 830.4Q953.7 753.6 1018.7 677.1M888.1 830.2Q952.9 755.1 1019.3 678.9M886.2 841.9Q958 759.9 1029.9 676.9M887 842.2Q957.7 761 1029.3 679M885.9 856.2Q963.9 768.4 1040.4 679.1M887.8 854.9Q965.1 765.5 1040.9 677.7M888 866.8Q969.6 773.5 1051 679M886.9 867.1Q968.4 773 1049.6 677.9M887.4 880.1Q973.7 779.3 1061.6 677.3M886.9 878.8Q973.9 777.5 1061.8 677.2M887.8 890.3Q979.6 783.7 1071.1 678.8M887.4 891.2Q979.7 784.4 1072.3 678.6M887.3 904.6Q985.4 791 1082.9 677.7M887.2 904.1Q985.7 791.5 1084.2 677.7M886.3 915.6Q989 797.9 1092.5 678.8M887.1 914.6Q990.2 796.7 1093.4 678.4M888 927Q996.4 801.2 1104.7 677M886.2 927.9Q995.4 802.7 1104.9 677.6M886.7 940.1Q1001 809.7 1115.9 678.1M888.1 940.3Q1001.8 808.3 1114 677.6M887.6 950.8Q1006.5 814.3 1125.7 677.4M886.1 952.3Q1005.9 814.7 1124.8 678.6M887.7 964.7Q1012.4 821.5 1136.9 677.4M886.7 965.4Q1011.6 822.7 1135.9 678.8M887.5 974.9Q1017.5 825.5 1146 677.4M886.9 975.7Q1016.6 827.2 1145.6 677M887.9 988.3Q1023 833.6 1156.5 677.9M887.3 987.6Q1021.3 832.1 1156.9 676.9M886.1 1000.6Q1027.8 839.6 1168 678.9M886.3 1001.6Q1027.3 839.7 1167.2 677.7M887.4 1015.4Q1033.1 847.5 1178.6 679M886.6 1013.8Q1033.6 844.9 1179 677.3M887.3 1024.3Q1037.2 850 1188 677.5M887.5 1025.3Q1038 851.6 1188.2 678.9M896.2 1028.2Q1049.4 852.4 1201.3 676.9M896.8 1028.5Q1047.9 853.6 1200.5 677.4M906.9 1027.8Q1059.8 853.4 1211.3 679M907.3 1027.1Q1057.5 853.5 1209.4 678.3M916.6 1027Q1068.9 851.7 1220.2 678.1M916.4 1026.9Q1068.9 853.2 1221.6 677.9M927.2 1027.3Q1078.6 852.9 1230.7 678.4M927.6 1028.1Q1080.5 853.8 1231.8 678M939.6 1027.4Q1091.1 853.5 1242.7 678.8M938.9 1027.2Q1090 852.8 1241.9 678.5M950.1 1028.5Q1102.5 852.2 1253.5 677.4M949.1 1028.4Q1102.2 852.8 1253.9 678.2M958.1 1028.4Q1109.8 852.5 1261.4 677.6M959.4 1026.6Q1109.6 852.4 1261.5 679.1M970.7 1027.1Q1122.5 853.5 1273.9 678.7M968.8 1027.6Q1119.9 852.5 1272.7 678.8M980.8 1026.4Q1132.4 851 1284.7 677.1M981 1028.2Q1132.6 853.7 1285 677.6M993 1027.3Q1145.3 852.9 1296.6 678.4M992.5 1027.5Q1143.1 853 1295.2 678M1000.9 1028.1Q1153.9 853.6 1305.4 677.6M1001.4 1027.6Q1153.7 852.7 1304.3 677.7M1012.4 1026.4Q1164.8 852.6 1316.3 677.1M1014.1 1027.7Q1164.9 852.6 1317 677.7M1023 1027.6Q1174.1 853.8 1325.9 678.8M1022.8 1027.8Q1175.3 853.9 1326.4 678.3M1034.8 1026.9Q1186.9 852.2 1338.6 678.8M1034.7 1027.2Q1185.2 853.4 1337.3 679M1044.6 1026.9Q1190.8 858.4 1337.1 689M1043.3 1027Q1189.8 858.2 1337.5 689.1M1055.9 1027Q1196.9 864.8 1338 701.7M1054.4 1027.8Q1196.4 865.3 1338.9 702.1M1064.3 1027.8Q1200.6 870.1 1338 712.5M1065.6 1026.8Q1201.6 869.9 1338.4 713.3M1075.9 1027.6Q1206.8 876.3 1338 726.1M1076.5 1026.5Q1208 877.8 1338.1 727.6M1086.9 1027.2Q1213.1 882.3 1338.5 737.8M1087.2 1027.4Q1213.3 881.8 1338.7 737.1M1096.8 1027.9Q1218.3 888.1 1338.2 749.9M1097.1 1026.7Q1217.9 887.4 1337.1 749.8M1108.5 1028.2Q1224.4 894.7 1338.8 762.5M1107.5 1026.9Q1223.3 894.7 1338.4 763.5M1118.1 1028.5Q1228 901.3 1338.2 775.4M1117.6 1026.9Q1228 900.3 1338.5 774.3M1128.1 1027.5Q1233.4 906.8 1338.9 786.9M1127.8 1027.2Q1232.2 906.7 1338.1 787.4M1139.6 1026.5Q1237.4 913.5 1336.9 799.3M1139.9 1027.4Q1240.3 912.8 1339.1 799.1M1149.3 1027.6Q1244.2 918.3 1338.4 809.8M1150.4 1028.2Q1243.7 918 1338.6 809.6M1159.8 1026.7Q1248.3 925.3 1337 824.7M1160 1027Q1249.3 926.2 1337.1 824.3M1170.9 1028.3Q1253.5 932 1337.8 835.6M1171.2 1027.3Q1254.7 931.3 1337.1 836M1181.8 1027.8Q1260 938.9 1338.5 848.9M1182.4 1026.6Q1260.3 936.5 1337.2 847.9M1193.8 1026.6Q1265.9 944.6 1339 862.5M1193 1026.7Q1264.6 944 1337.1 862.3M1202.2 1028.5Q1269 950.2 1337.4 871.1M1201.8 1028.2Q1270.3 950.3 1339 871.3M1213.5 1028.4Q1276.9 955.5 1339.1 884.1M1214.6 1027.2Q1276.3 955.2 1339.1 883.7M1225.1 1026.7Q1280.4 962.3 1337 896.4M1224.5 1026.8Q1281 961.3 1337.6 896.4M1234.7 1027.9Q1286.1 968.9 1338.9 910M1236 1026.6Q1286.8 966.7 1339 908.5M1245.4 1027.4Q1292.7 974.9 1338.2 922.1M1245.3 1027.3Q1290.8 975.4 1337.2 923M1256 1027.6Q1296.9 981.2 1337.5 933.7M1256.9 1026.6Q1298.6 979.9 1338.7 933M1266.3 1027.6Q1302.3 986.2 1338 944.7M1266.9 1027.2Q1302.9 984.8 1337.9 943.9M1278.3 1027.7Q1307.3 992.7 1337.8 958.9M1278.3 1027.1Q1309 993.2 1338 958.7M1287.5 1027.1Q1313.1 998.4 1337.3 968.7M1287 1028.3Q1312.9 998.9 1338 968.2M1298.6 1027.4Q1317.1 1005.6 1337.2 982.1M1299.5 1027.5Q1318.9 1004.9 1338.4 983.1M1309.4 1027.2Q1323.6 1010.5 1337.4 994.6M1308.5 1028.1Q1324.3 1011.9 1339.1 995M1319.8 1027.4Q1330.3 1015.8 1339 1005.6M1319.2 1027.7Q1329.6 1017.7 1339 1007.2M1330.6 1026.5Q1334.3 1023.1 1338.2 1018.8M1332.1 1026.7Q1335.5 1023.3 1338.9 1018.9" fill="none" stroke="#ffec99" stroke-width="1.1" stroke-linecap="round"/>
<path d="M887.6 678.3C1108.9 678.2 1172.3 677.5 1338.6 678.8M887.6 678.6C1043.8 681.5 1182.7 681.1 1338.5 677.6M1338.1 677.8C1340 847.2 1339.9 919.1 1338.1 1028.2M1337.2 677.4C1337.9 828.3 1338 957.7 1337.5 1028.2M1337.4 1026.8C1140.6 1030 1023.1 1029.8 886.9 1028M1337.6 1027.2C1152.5 1027.5 1051.7 1027.4 887.5 1027.2M887 1026.9C890.8 859.3 891.4 812.9 887 677.8M887.7 1027C888.7 864.2 887.9 798.1 887 678" fill="none" stroke="#1e1e1e" stroke-width="1.8" stroke-linecap="round" stroke-linejoin="round"/>
<text font-size="40" fill="#1e1e1e" stroke="#1e1e1e" stroke-width="0.5" stroke-linejoin="round"><tspan x="1055.9" y="865" textLength="110.9" lengthAdjust="spacingAndGlyphs">Billing</tspan></text>
<text font-size="40" fill="#1e1e1e" stroke="#1e1e1e" stroke-width="0.5" stroke-linejoin="round"><tspan x="1581.6" y="655" textLength="155.2" lengthAdjust="spacingAndGlyphs">Frontier</tspan></text>
<path d="M1997.2 307.7C2056.1 307.4 2106 307.6 2154.5 307.3M1997.2 307.9C2055.1 310.3 2102 310.5 2155.3 307.7M2154.6 308C2152.3 531.4 2152.1 790.2 2154.8 1039.9M2155.5 307.5C2158.1 621.3 2158.1 753.8 2154.6 1039.4M2155.4 1040C2098.1 1039.7 2038.6 1039.7 1998 1040M2154.7 1039.9C2082.7 1041.4 2044.5 1041.1 1997.4 1040M1997.7 1040.5C1992.7 723.5 1993.3 525.9 1997.1 306.9M1997.8 1040.7C1999.8 806.1 2000.6 508.5 1997.9 306.9" fill="none" stroke="#1e1e1e" stroke-width="1.8" stroke-linecap="round" stroke-linejoin="round"/>
<text font-size="40" fill="#1e1e1e" stroke="#1e1e1e" stroke-width="0.5" stroke-linejoin="round"><tspan x="2031" y="625" textLength="72.4" lengthAdjust="spacingAndGlyphs">Web</tspan> <tspan x="2011.1" y="675" textLength="109.3" lengthAdjust="spacingAndGlyphs">Hooks</tspan></text>
<ellipse cx="2703.5" cy="459.8" rx="165.8" ry="164.4" fill="none" stroke="#1e1e1e" stroke-width="2" transform="rotate(-1.4 2703 459)"/>
<ellipse cx="2703.7" cy="459.1" rx="165.3" ry="164.8" fill="none" stroke="#1e1e1e" stroke-width="2" transform="rotate(-2 2703 459)"/>
<text font-size="40" fill="#1e1e1e" stroke="#1e1e1e" stroke-width="0.5" stroke-linejoin="round"><tspan x="2617" y="445" textLength="169.5" lengthAdjust="spacingAndGlyphs">External</tspan> <tspan x="2623.4" y="497" textLength="158.5" lengthAdjust="spacingAndGlyphs">Services</tspan></text>
<path d="M2156.3 412C2278.7 411.9 2411.9 410.6 2524 407.7M2155.7 411.5C2266.5 409.6 2382.1 408.2 2524.5 408.2" fill="none" stroke="#2f9e44" stroke-width="2" stroke-linecap="round" stroke-linejoin="round"/>
<path d="M2476.2 390.9C2498.6 399.7 2507.7 403 2523.9 408.1M2475.9 390.8C2491.8 396.1 2510.2 402.7 2524.2 407.9M2476 425.1C2498.1 418.1 2513.7 412.6 2523.8 408M2476 425C2498.1 416.8 2513.2 411.4 2524.2 408" fill="none" stroke="#2f9e44" stroke-width="2" stroke-linecap="round" stroke-linejoin="round"/>
<path d="M2158.2 519.8C2328.4 517 2435.3 514.6 2505.4 511.7M2158.2 519.5C2328.6 514.9 2431 512.8 2505.4 512.1" fill="none" stroke="#2f9e44" stroke-width="2" stroke-linecap="round" stroke-linejoin="round"/>
<path d="M2456.2 497C2473.4 503.3 2491 508.6 2505.1 512M2455.8 497.1C2473.5 501.8 2493.3 508 2505.1 511.9M2458 531.1C2472.9 525.7 2495.2 516.8 2505.2 511.9M2458.1 531C2475.5 523.5 2491.7 516.9 2504.8 512.2" fill="none" stroke="#2f9e44" stroke-width="2" stroke-linecap="round" stroke-linejoin="round"/>
<defs><clipPath id="cu"><ellipse cx="81.5" cy="502" rx="25" ry="21.3"/><path d="M31 614C32 590 36 568 41 558C50 542 66 527 80.5 525.5C98 527 112 546 122 560C130 574 137 592 135 600C133 607 128 610 112 613C95 615 60 615 31 614Z"/></clipPath><clipPath id="cs"><rect x="46" y="787" width="74" height="139"/></clipPath></defs>
<path d="M-94.6 616L28 475M-73.4 616L49.2 475M-52.2 616L70.4 475M-31 616L91.6 475M-9.8 616L112.8 475M11.4 616L134 475M32.6 616L155.2 475M53.8 616L176.4 475M75 616L197.6 475M96.2 616L218.8 475M117.4 616L240 475M138.6 616L261.2 475M28 616L-134.2 475M52.4 616L-109.8 475M76.8 616L-85.4 475M101.2 616L-61 475M125.6 616L-36.6 475M149.9 616L-12.3 475M174.3 616L12.1 475M198.7 616L36.5 475M223.1 616L60.9 475M247.5 616L85.3 475M271.9 616L109.7 475M296.3 616L134.1 475" fill="none" stroke="#ced4da" stroke-width="2" clip-path="url(#cu)"/>
<ellipse cx="81.5" cy="502" rx="25" ry="21.3" fill="none" stroke="#000" stroke-width="4"/>
<path d="M31 614C32 590 36 568 41 558C50 542 66 527 80.5 525.5C98 527 112 546 122 560C130 574 137 592 135 600C133 607 128 610 112 613C95 615 60 615 31 614Z" fill="none" stroke="#000" stroke-width="4" stroke-linejoin="round"/>
<text font-size="40" fill="#000" stroke="#000" stroke-width="0.5" stroke-linejoin="round"><tspan x="36.9" y="669" textLength="90.6" lengthAdjust="spacingAndGlyphs">User</tspan></text>
<path d="M110.7 485.3C217.3 487.8 370.1 486.8 462.6 483.2M110.6 484.5C263 480.7 353.6 480.5 463.4 482.9" fill="none" stroke="#1971c2" stroke-width="2" stroke-linecap="round" stroke-linejoin="round"/>
<path d="M414 467C430.4 473.2 452.4 480.3 463.2 483.1M414.2 467.1C432.2 472.6 453.1 479.4 462.9 483.1M415.4 501.5C436.9 494 446.3 490.3 463.1 483.1M415.6 501.5C438.9 492.1 451.3 487 463.1 482.8" fill="none" stroke="#1971c2" stroke-width="2" stroke-linecap="round" stroke-linejoin="round"/>
<path d="M457.6 531.5C346.8 531.1 183.4 532.8 106.3 534.5M457.5 531.7C286.1 534.1 246.9 534.3 106.3 534.8" fill="none" stroke="#2f9e44" stroke-width="2" stroke-linecap="round" stroke-linejoin="round"/>
<path d="M152.4 516.8C129.3 524.7 123.3 527.1 105.8 534.3M152.6 517C135.3 523.8 116 531.2 106 534.6M153 550.3C133.6 543 122.7 539.5 106 534.6M152.9 550.5C134.6 544.5 124.1 541 105.9 534.3" fill="none" stroke="#2f9e44" stroke-width="2" stroke-linecap="round" stroke-linejoin="round"/>
<path d="M-74.8 926L46 787M-53.6 926L67.2 787M-32.4 926L88.4 787M-11.2 926L109.6 787M10 926L130.8 787M31.2 926L152 787M52.4 926L173.2 787M73.6 926L194.4 787M94.8 926L215.6 787M116 926L236.8 787M46 926L-113.9 787M70.4 926L-89.5 787M94.8 926L-65.1 787M119.2 926L-40.7 787M143.6 926L-16.3 787M167.9 926L8 787M192.3 926L32.4 787M216.7 926L56.8 787M241.1 926L81.2 787M265.5 926L105.6 787" fill="none" stroke="#ced4da" stroke-width="2" clip-path="url(#cs)"/>
<rect x="46" y="787" width="74" height="139" fill="none" stroke="#000" stroke-width="4" stroke-linejoin="round"/>
<path d="M55 802H112M55 815.3H112M55 828H112M55 841H112" fill="none" stroke="#000" stroke-width="4" stroke-linecap="round"/>
<text font-size="40" fill="#000" stroke="#000" stroke-width="0.5" stroke-linejoin="round"><tspan x="18.4" y="983" textLength="125.9" lengthAdjust="spacingAndGlyphs">Server</tspan></text>
<path d="M138.4 851.9C263 852.6 378.4 851.6 445.8 849.6" fill="none" stroke="#1971c2" stroke-width="2" stroke-linecap="round" stroke-linejoin="round"/>
<path d="M397.8 832.3C417 840.2 432.5 846 445.9 850M397.9 867.4C420.8 860.2 432.8 855.6 446 850" fill="none" stroke="#1971c2" stroke-width="2" stroke-linecap="round" stroke-linejoin="round"/>
<path d="M448.6 903.2C320.2 901.5 206 901.3 135.3 902.4M449 902.5C337.2 904 223.8 903.4 135.2 901.9" fill="none" stroke="#2f9e44" stroke-width="2" stroke-linecap="round" stroke-linejoin="round"/>
<path d="M182.9 884.8C168.1 889.3 151.6 895.2 135.1 901.8M183 885C167.1 891.1 149.2 897.6 135 901.9M183.1 919C163.3 911.1 147.3 905.6 134.8 901.9M183.1 919.1C160.3 911.4 151.6 908.2 134.8 902.1" fill="none" stroke="#2f9e44" stroke-width="2" stroke-linecap="round" stroke-linejoin="round"/>
<path d="M1075.2 1087.9C1074.1 1139.7 1073.8 1175 1074.8 1220.5" fill="none" stroke="#1971c2" stroke-width="2" stroke-linecap="round" stroke-linejoin="round"/>
<path d="M1056.7 1172.9C1061.4 1187.7 1068.9 1207.9 1074.5 1220.3M1091.7 1173.1C1082.3 1196.2 1077.8 1209 1074.4 1220.6" fill="none" stroke="#1971c2" stroke-width="2" stroke-linecap="round" stroke-linejoin="round"/>
<path d="M1165.5 1208.9C1168.3 1155.1 1170.3 1097.2 1170.2 1066.1M1165.7 1208.8C1166.4 1143.9 1167.3 1110.4 1170.1 1066.1" fill="none" stroke="#2f9e44" stroke-width="2" stroke-linecap="round" stroke-linejoin="round"/>
<path d="M1150.6 1113.1C1157.4 1098.5 1166.4 1076.9 1169.8 1066.1M1150.6 1113C1156.6 1097.6 1165.5 1075.4 1169.9 1066.2M1185.5 1114.5C1178.9 1091.4 1174.9 1078.7 1169.8 1065.8M1185.6 1114.4C1179.1 1095.6 1173.5 1078.4 1169.8 1065.8" fill="none" stroke="#2f9e44" stroke-width="2" stroke-linecap="round" stroke-linejoin="round"/>
<path d="M1532.8 1075.7C1532 1126.6 1532.7 1152.5 1534.4 1194.2M1532.3 1076.1C1534.4 1116.5 1535 1151.8 1534.7 1194.2" fill="none" stroke="#1971c2" stroke-width="2" stroke-linecap="round" stroke-linejoin="round"/>
<path d="M1516.8 1147.8C1524.4 1169.7 1527.4 1177.6 1534.6 1194.5M1517.1 1148C1525.5 1169.3 1531.2 1184.8 1534.7 1194.5M1551.8 1147.9C1543.4 1168.2 1539.6 1178.2 1534.6 1194.4M1551.9 1148.1C1545.8 1165.5 1538.6 1184.8 1534.4 1194.4" fill="none" stroke="#1971c2" stroke-width="2" stroke-linecap="round" stroke-linejoin="round"/>
<path d="M1582.5 1192C1582.4 1158.6 1580.7 1117.3 1577.7 1084" fill="none" stroke="#2f9e44" stroke-width="2" stroke-linecap="round" stroke-linejoin="round"/>
<path d="M1561.6 1132.1C1568.5 1114.3 1574.6 1096.1 1577.9 1083.8M1595.9 1130.3C1589.5 1111.6 1583.8 1096.8 1577.8 1084.2" fill="none" stroke="#2f9e44" stroke-width="2" stroke-linecap="round" stroke-linejoin="round"/>
<path d="M1917.2 1088.2C1925.1 1148.2 1930.8 1187.3 1940.3 1244M1917.2 1088.7C1930.2 1165.7 1934.4 1194.1 1940.6 1243.7" fill="none" stroke="#1971c2" stroke-width="2" stroke-linecap="round" stroke-linejoin="round"/>
<path d="M1915.3 1201C1922.6 1215 1930.4 1228.2 1940.5 1244.2M1915.5 1200.8C1924.2 1215.3 1931.1 1227.1 1940.6 1244.1M1949.4 1194C1944.8 1215.5 1942.2 1230.2 1940.6 1244.1M1949.3 1194.1C1946.7 1212.6 1944.3 1224.4 1940.6 1244" fill="none" stroke="#1971c2" stroke-width="2" stroke-linecap="round" stroke-linejoin="round"/>
<path d="M1986.3 1229.7C1981 1177.9 1974.8 1132.1 1967.4 1084.2" fill="none" stroke="#2f9e44" stroke-width="2" stroke-linecap="round" stroke-linejoin="round"/>
<path d="M1956.6 1133.1C1960.7 1118 1965.7 1095.9 1967.3 1084M1990.8 1128.3C1981.5 1108.5 1976.5 1099.3 1967.6 1083.9" fill="none" stroke="#2f9e44" stroke-width="2" stroke-linecap="round" stroke-linejoin="round"/>
<path d="M1016 1388.6L1193.6 1388.6C1215 1387 1231 1370 1230 1350.6C1229 1330 1214 1314 1193.6 1311C1194 1300 1193 1292 1192 1288.8C1189 1272 1183 1260 1174.6 1252.3C1162 1240 1147 1232 1130.2 1230.9C1122 1230.5 1115 1231.5 1108 1234C1093 1240 1080 1250 1069.2 1259.4C1065 1257 1061 1256 1057.3 1255.8C1049 1255 1042 1256 1035 1258.6C1026 1262 1020 1269 1017.7 1276C1016 1281 1016.5 1287 1017.2 1292C1014 1292 1010 1292.5 1007.4 1293C996 1295 987 1299 979.6 1304.6C970 1313 965 1324 964.6 1336.3C964.5 1350 969 1362 976.5 1371.2C986 1382 1000 1388 1016 1388.6Z" fill="#ffec99" stroke="none"/>
<defs><clipPath id="cc"><path d="M1016 1388.6L1193.6 1388.6C1215 1387 1231 1370 1230 1350.6C1229 1330 1214 1314 1193.6 1311C1194 1300 1193 1292 1192 1288.8C1189 1272 1183 1260 1174.6 1252.3C1162 1240 1147 1232 1130.2 1230.9C1122 1230.5 1115 1231.5 1108 1234C1093 1240 1080 1250 1069.2 1259.4C1065 1257 1061 1256 1057.3 1255.8C1049 1255 1042 1256 1035 1258.6C1026 1262 1020 1269 1017.7 1276C1016 1281 1016.5 1287 1017.2 1292C1014 1292 1010 1292.5 1007.4 1293C996 1295 987 1299 979.6 1304.6C970 1313 965 1324 964.6 1336.3C964.5 1350 969 1362 976.5 1371.2C986 1382 1000 1388 1016 1388.6Z"/></clipPath></defs>
<ellipse cx="1016" cy="1347.4" rx="39" ry="41" fill="#ffec99" stroke="#c8ccd2" stroke-width="1.8" clip-path="url(#cc)"/>
<ellipse cx="1016.6" cy="1347.1" rx="38.1" ry="41.6" fill="none" stroke="#c8ccd2" stroke-width="1.4" clip-path="url(#cc)" transform="rotate(-6.2 1016 1347.4)"/>
<ellipse cx="1154" cy="1327" rx="41" ry="52" fill="#ffec99" stroke="#c8ccd2" stroke-width="1.8" clip-path="url(#cc)"/>
<ellipse cx="1154" cy="1327.1" rx="41" ry="50.9" fill="none" stroke="#c8ccd2" stroke-width="1.4" clip-path="url(#cc)" transform="rotate(2.1 1154 1327)"/>
<ellipse cx="1084" cy="1295" rx="40" ry="36" fill="#ffec99" stroke="#c8ccd2" stroke-width="1.8" clip-path="url(#cc)"/>
<ellipse cx="1084" cy="1295.7" rx="38.6" ry="36.9" fill="none" stroke="#c8ccd2" stroke-width="1.4" clip-path="url(#cc)" transform="rotate(-5.2 1084 1295)"/>
<ellipse cx="1062" cy="1331.6" rx="58" ry="53" fill="#ffec99" stroke="#c8ccd2" stroke-width="1.8" clip-path="url(#cc)"/>
<ellipse cx="1062.6" cy="1331.6" rx="58.6" ry="52" fill="none" stroke="#c8ccd2" stroke-width="1.4" clip-path="url(#cc)" transform="rotate(-2.9 1062 1331.6)"/>
<ellipse cx="1176" cy="1349" rx="49" ry="38" fill="#ffec99" stroke="#c8ccd2" stroke-width="1.8" clip-path="url(#cc)"/>
<ellipse cx="1175.2" cy="1349.6" rx="48.8" ry="37" fill="none" stroke="#c8ccd2" stroke-width="1.4" clip-path="url(#cc)" transform="rotate(-4.9 1176 1349)"/>
<path d="M1016 1388.6L1193.6 1388.6C1215 1387 1231 1370 1230 1350.6C1229 1330 1214 1314 1193.6 1311C1194 1300 1193 1292 1192 1288.8C1189 1272 1183 1260 1174.6 1252.3C1162 1240 1147 1232 1130.2 1230.9C1122 1230.5 1115 1231.5 1108 1234C1093 1240 1080 1250 1069.2 1259.4C1065 1257 1061 1256 1057.3 1255.8C1049 1255 1042 1256 1035 1258.6C1026 1262 1020 1269 1017.7 1276C1016 1281 1016.5 1287 1017.2 1292C1014 1292 1010 1292.5 1007.4 1293C996 1295 987 1299 979.6 1304.6C970 1313 965 1324 964.6 1336.3C964.5 1350 969 1362 976.5 1371.2C986 1382 1000 1388 1016 1388.6Z" fill="none" stroke="#000" stroke-width="3" stroke-linejoin="round"/>
<text font-size="40" fill="#000" stroke="#000" stroke-width="0.5" stroke-linejoin="round"><tspan x="1036.7" y="1360.5" textLength="122.1" lengthAdjust="spacingAndGlyphs">Stripe</tspan></text>
<path d="M1486 1226.5L1486 1400C1499 1414.5 1531.6 1417 1567.5 1417C1603.4 1417 1636 1414.5 1649 1400L1650 1224.5C1639.2 1211 1616.4 1209 1567.5 1208.5C1518.6 1209 1490.9 1213 1486 1226.5Z" fill="#228be6" stroke="#1717dd" stroke-width="2.2" stroke-linejoin="round"/>
<path d="M1490.5 1231.5L1489.5 1397C1502.2 1411.9 1533.9 1414.5 1568.8 1414.5C1603.6 1414.5 1635.3 1411.9 1648 1397L1646.5 1229.5" fill="none" stroke="#1717dd" stroke-width="1.8" stroke-linejoin="round"/>
<ellipse cx="1565.8" cy="1226.5" rx="79.8" ry="16.5" fill="#fff" stroke="#1717dd" stroke-width="2.2"/>
<path d="M1485 1289.5Q1567.5 1315.8 1651 1285M1488 1286.5C1534.9 1304.5 1600.1 1304.5 1650 1281" fill="none" stroke="#1717dd" stroke-width="2"/>
<path d="M1485 1348Q1567.5 1382.2 1651 1343.5M1488 1345C1534.9 1367 1600.1 1367 1650 1339.5" fill="none" stroke="#1717dd" stroke-width="2"/>
<ellipse cx="1627" cy="1268.5" rx="11.3" ry="13" fill="#fff" stroke="#1717dd" stroke-width="2"/>
<ellipse cx="1627.5" cy="1324" rx="11.3" ry="13" fill="#fff" stroke="#1717dd" stroke-width="2"/>
<ellipse cx="1627.5" cy="1384.5" rx="11.3" ry="13" fill="#fff" stroke="#1717dd" stroke-width="2"/>
<text font-size="40" fill="#1e1e1e" stroke="#1e1e1e" stroke-width="0.5" stroke-linejoin="round"><tspan x="1450" y="1455" textLength="159.4" lengthAdjust="spacingAndGlyphs">Postgres</tspan> <tspan x="1625.9" y="1455" textLength="57.2" lengthAdjust="spacingAndGlyphs">DB</tspan></text>
<path d="M2303 1272L2303 1462C2317.2 1479 2352.8 1482 2392 1482C2431.2 1482 2466.8 1479 2481 1462L2482 1270C2470.3 1256.5 2445.4 1254.5 2392 1254C2338.6 1254.5 2308.3 1258.5 2303 1272Z" fill="#228be6" stroke="#1717dd" stroke-width="2.2" stroke-linejoin="round"/>
<path d="M2307.5 1277L2306.5 1459C2320.4 1476.4 2355.1 1479.5 2393.2 1479.5C2431.4 1479.5 2466.1 1476.4 2480 1459L2478.5 1275" fill="none" stroke="#1717dd" stroke-width="1.8" stroke-linejoin="round"/>
<ellipse cx="2390.2" cy="1272" rx="87.2" ry="16.5" fill="#fff" stroke="#1717dd" stroke-width="2.2"/>
<path d="M2302 1337Q2392 1367.8 2483 1335.5M2305 1334C2356.4 1355 2427.6 1355 2482 1331.5" fill="none" stroke="#1717dd" stroke-width="2"/>
<path d="M2302 1402Q2392 1439 2483 1406M2305 1399C2356.4 1424.5 2427.6 1424.5 2482 1402" fill="none" stroke="#1717dd" stroke-width="2"/>
<ellipse cx="2457" cy="1318.5" rx="11.3" ry="13" fill="#fff" stroke="#1717dd" stroke-width="2"/>
<ellipse cx="2457" cy="1379" rx="11.3" ry="13" fill="#fff" stroke="#1717dd" stroke-width="2"/>
<ellipse cx="2457.5" cy="1446" rx="11.3" ry="13" fill="#fff" stroke="#1717dd" stroke-width="2"/>
<text font-size="40" fill="#1e1e1e" stroke="#1e1e1e" stroke-width="0.5" stroke-linejoin="round"><tspan x="2312" y="1523" textLength="157.2" lengthAdjust="spacingAndGlyphs">SpiceDB</tspan></text>
<path d="M2147.1 1286.3C2224.3 1272.4 2271.8 1263.3 2308.2 1254.7M2147.3 1286.3C2205.7 1273.7 2248.2 1265.4 2308.2 1255.3" fill="none" stroke="#1971c2" stroke-width="2" stroke-linecap="round" stroke-linejoin="round"/>
<path d="M2257.8 1246.9C2277.8 1250.9 2289 1252.7 2308.5 1255.1M2257.9 1246.9C2275.9 1249.4 2289 1251.6 2308.6 1254.9M2264.4 1281.3C2279.1 1273.7 2297.6 1262.4 2308.5 1254.9M2264.3 1281.7C2284.1 1269.2 2292.2 1264.2 2308.4 1254.8" fill="none" stroke="#1971c2" stroke-width="2" stroke-linecap="round" stroke-linejoin="round"/>
<path d="M2321.2 1297.9C2258.9 1305.3 2208.7 1312.1 2152.7 1320.7M2321.5 1297.8C2262.4 1307.3 2202.3 1315.7 2153 1320.9" fill="none" stroke="#2f9e44" stroke-width="2" stroke-linecap="round" stroke-linejoin="round"/>
<path d="M2199.1 1298.9C2175.9 1309.1 2164.8 1314.5 2153.1 1321.2M2199.1 1299.2C2185 1306.1 2168.1 1314.2 2153.2 1321.1M2202.6 1333.4C2185.7 1328.5 2167.1 1323.7 2153 1320.9M2202.6 1333.5C2182.2 1328.8 2164.9 1324.5 2153.1 1320.9" fill="none" stroke="#2f9e44" stroke-width="2" stroke-linecap="round" stroke-linejoin="round"/>
<rect x="1870" y="1270" width="249.5" height="245" fill="#eeeeee"/>
<path d="M1870.5 1270.4C1960.3 1268.2 2060 1268.3 2119.9 1270.2M1869.6 1269.8C1954 1270.9 2058.9 1271.3 2119.7 1270.2M2118.9 1270.1C2118.2 1368.7 2117.9 1446.3 2119.3 1514.7M2119.9 1269.6C2121.2 1356.7 2121.1 1461 2119.7 1514.5M2119.6 1514.5C2028.8 1516 1928.7 1515.7 1869.6 1514.9M2119.1 1515.3C2029 1514.3 1930.9 1514.2 1870.6 1515.5M1870.4 1514.7C1869 1416.4 1869.3 1346.2 1870.1 1270.1M1870.3 1515.3C1871.3 1438.9 1871.6 1321.9 1869.6 1269.5" fill="none" stroke="#000" stroke-width="2.2" stroke-linecap="round" stroke-linejoin="round"/>
<text font-size="40" fill="#000" stroke="#000" stroke-width="0.5" stroke-linejoin="round"><tspan x="1918" y="1378.5" textLength="152" lengthAdjust="spacingAndGlyphs">SpiceDB</tspan> <tspan x="1933.4" y="1431.5" textLength="122.4" lengthAdjust="spacingAndGlyphs">Server</tspan></text>
</svg>
</body></html>
